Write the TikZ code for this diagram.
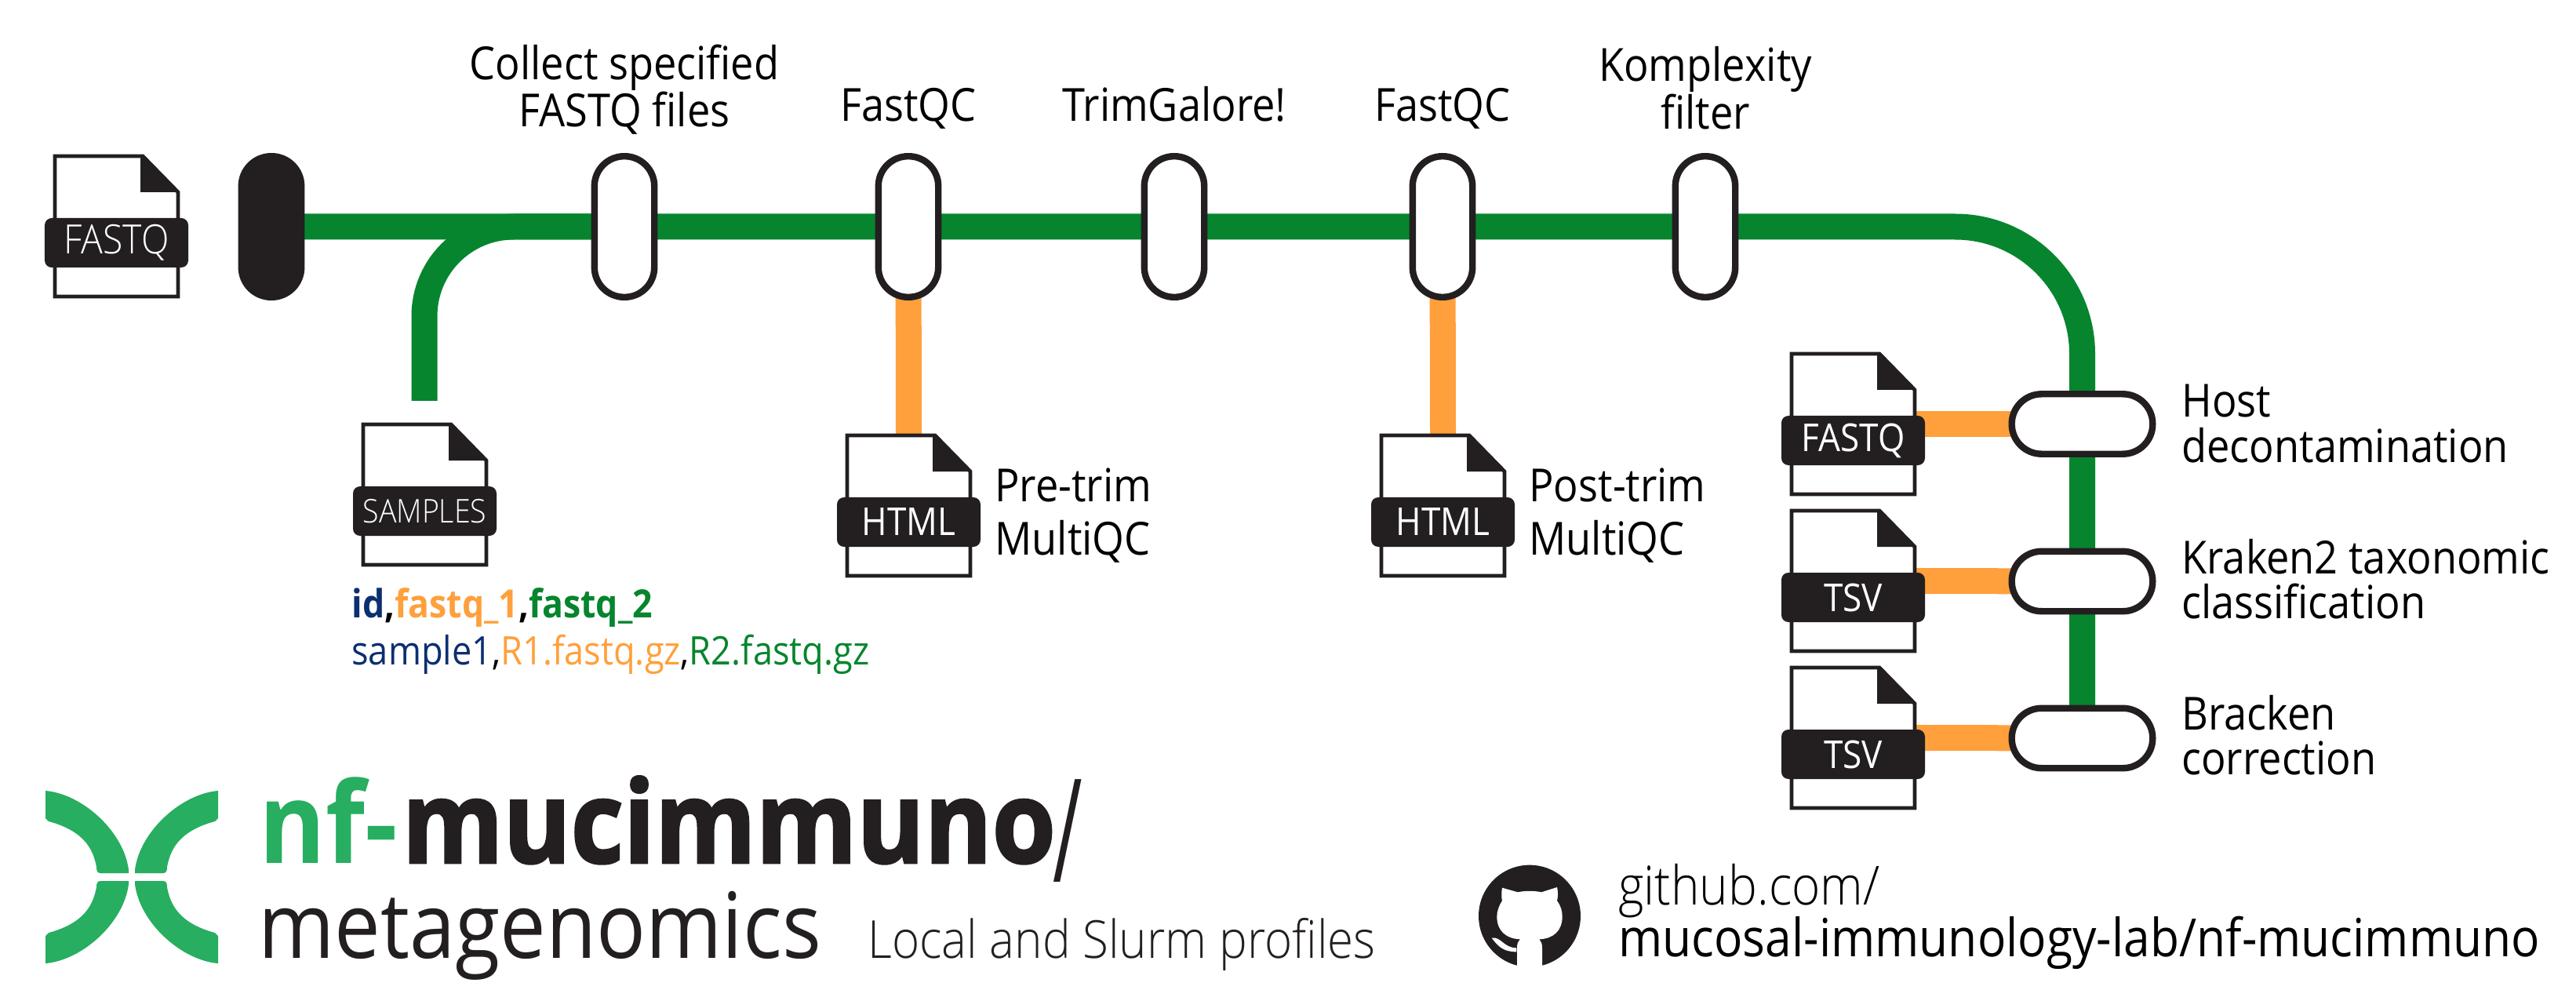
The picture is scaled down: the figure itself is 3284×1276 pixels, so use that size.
\documentclass[tikz,border=0pt]{standalone}
\usepackage{fontspec}
\usetikzlibrary{backgrounds}
\setmainfont{Open Sans}[FakeStretch=0.9,Ligatures=NoCommon]
\newfontfamily\lightf{Open Sans Light}[FakeStretch=0.9]
\newfontfamily\heavyf{Open Sans}[FakeStretch=0.9,BoldFeatures={FakeBold=1.8}]
\definecolor{ink}{HTML}{231F20}
\definecolor{metro}{HTML}{06852E}
\definecolor{amber}{HTML}{FFA03C}
\definecolor{logogreen}{HTML}{27AE60}
\definecolor{navy}{HTML}{0B2F70}
\tikzset{
  x=0.5bp,y=-0.5bp,
  stop/.style={draw=ink,line width=4.2bp,fill=white,rounded corners=19bp,inner sep=0pt,outer sep=0pt,minimum width=38.2bp,minimum height=89.8bp},
  startstop/.style={stop,fill=ink},
  hstop/.style={stop,minimum width=89.8bp,minimum height=38.2bp},
  mainline/.style={draw=metro,line width=16.5bp},
  sideline/.style={draw=amber,line width=16.5bp},
  docline/.style={draw=ink,line width=2.4bp,fill=white,miter limit=10},
  doclabel/.style={fill=ink,text=white,rounded corners=4.5bp,inner sep=0pt,outer sep=0pt,minimum width=91.5bp,minimum height=31.5bp,font=\fontsize{24.6}{25}\selectfont},
  steplabel/.style={text=black,inner sep=0pt,align=center,font=\fontsize{29.2}{28.7}\selectfont},
  sidelabel/.style={steplabel,align=left,anchor=west},
  baselabel/.style={steplabel,anchor=base},
  widelabel/.style={sidelabel,font=\fontsize{29.2}{34.5}\selectfont},
}
\newcommand\docicon[5][]{%
  \path[docline] (#3,#4) -- ++(112,0) -- ++(45,46) -- ++(0,133) -- ++(-157,0) -- cycle;
  \fill[ink] (#3+109,#4+2) -- (#3+112,#4) -- (#3+157,#4+46) -- (#3+109,#4+46) -- cycle;
  \coordinate (#2-top) at (#3+78.5,#4);
  \coordinate (#2-port) at (#3+157,#4+89.5);
  \node[doclabel,#1] (#2) at (#3+78.5,#4+110.5) {#5};
}
\begin{document}
\begin{tikzpicture}
\useasboundingbox (0,0) rectangle (3284,1276);

% stops
\node[startstop] (start) at (346,289) {};
\node[stop] (collect) at (796,289) {};
\node[stop] (fq1) at (1158,289) {};
\node[stop] (trim) at (1497,289) {};
\node[stop] (fq2) at (1839,289) {};
\node[stop] (komp) at (2174,289) {};
\node[hstop] (host) at (2654.5,540.5) {};
\node[hstop] (kraken) at (2654.5,741) {};
\node[hstop] (bracken) at (2654.5,941) {};
\coordinate (bend) at (2654.5,289);
\coordinate (branchend) at (541,511);
\coordinate (branchbend) at (541,289);

% documents
\docicon[font=\fontsize{25.8}{26}\selectfont\lightf]{infile}{70}{199}{FASTQ}
\docicon[font=\fontsize{20.9}{21}\selectfont\lightf]{samples}{463}{541}{SAMPLES}
\docicon{html1}{1080}{555}{HTML}
\docicon{html2}{1761}{555}{HTML}
\docicon{outfq}{2284}{451}{FASTQ}
\docicon{tsv1}{2284}{651}{TSV}
\docicon{tsv2}{2284}{851}{TSV}

% connectors
\begin{scope}[on background layer]
  \fill[white] (0,0) rectangle (3284,1276);
  \draw[mainline,rounded corners=81bp] (start.center) -- (komp.center) -- (bend) -- (bracken.center);
  \draw[mainline,rounded corners=57bp] (branchend) -- (branchbend) -- (collect.center);
  \draw[sideline] (fq1.center) -- (html1-top);
  \draw[sideline] (fq2.center) -- (html2-top);
  \draw[sideline] (outfq-port) -- (host.center);
  \draw[sideline] (tsv1-port) -- (kraken.center);
  \draw[sideline] (tsv2-port) -- (bracken.center);
\end{scope}

% labels
\node[steplabel] (lcollect) at (796,114) {Collect specified\\FASTQ files};
\node[baselabel] (lfq1) at (1158,155) {FastQC};
\node[baselabel] (ltrim) at (1497,155) {TrimGalore!};
\node[baselabel] (lfq2) at (1839,155) {FastQC};
\node[steplabel] (lkomp) at (2174,112) {Komplexity\\filter};
\node[sidelabel] (lhost) at (2781,540) {Host\\decontamination};
\node[sidelabel] (lkraken) at (2781,738) {Kraken2 taxonomic\\classification};
\node[sidelabel] (lbracken) at (2781,937) {Bracken\\correction};
\node[widelabel] (lpre) at (1268,657) {Pre-trim\\MultiQC};
\node[widelabel] (lpost) at (1949,657) {Post-trim\\MultiQC};

% samplesheet
\node[anchor=base west,inner sep=0pt,font=\fontsize{24.9}{25}\selectfont\bfseries] (csvhead) at (448,787)
  {\textcolor{navy}{id},\textcolor{amber}{fastq\_1},\textcolor{metro}{fastq\_2}};
\node[anchor=base west,inner sep=0pt,font=\fontsize{25.2}{26}\selectfont] (csvrow) at (448,847)
  {\textcolor{navy}{sample1},\textcolor{amber}{R1.fastq.gz},\textcolor{metro}{R2.fastq.gz}};

% logo
\newcommand\logoarm{(58,1008) .. controls (105,1012) and (158,1060) .. (164,1109) -- (164,1113) -- (128,1113) .. controls (124,1113) and (123,1110) .. (123,1105) .. controls (119,1085) and (110,1060) .. (62,1047) -- (58,1043) -- cycle}
\fill[logogreen] \logoarm;
\begin{scope}[cm={-1,0,0,1,(168bp,0)}]\fill[logogreen] \logoarm;\end{scope}
\begin{scope}[cm={1,0,0,-1,(0,-1118bp)}]\fill[logogreen] \logoarm;\end{scope}
\begin{scope}[cm={-1,0,0,-1,(168bp,-1118bp)}]\fill[logogreen] \logoarm;\end{scope}

% title
\node[anchor=base west,inner sep=0pt,font=\fontsize{72}{75}\selectfont] (title) at (330,1100)
  {\textcolor{logogreen}{\bfseries nf-}\hspace{3bp}\textcolor{ink}{\heavyf\bfseries\fontsize{73.1}{75}\selectfont mucimmuno}\textcolor{ink}{\hspace{-2bp}\raisebox{-12bp}{\scalebox{0.62}[1]{\fontsize{92}{92}\selectfont /}}}};
\node[anchor=base west,inner sep=0pt,text=ink,font=\fontsize{58.3}{60}\selectfont] (subtitle) at (329,1221) {metagenomics};
\node[anchor=base west,inner sep=0pt,text=ink,font=\fontsize{33.5}{34}\selectfont\lightf] (profiles) at (1106,1221) {Local and Slurm profiles};
\node[anchor=base west,inner sep=0pt,font=\fontsize{34.5}{35}\selectfont\lightf] (gh1) at (2063,1153) {github.com/};
\node[anchor=base west,inner sep=0pt,font=\fontsize{33.7}{34}\selectfont] (gh2) at (2063,1219) {mucosal-immunology-lab/nf-mucimmuno};

% github mark
\begin{scope}[shift={(1800,1050)},x=0.16667bp,y=-0.16667bp]
  \fill[ink] (450,353) circle [radius=195];
  \fill[white] (345,245) -- (405,262) .. controls (430,256) and (470,256) .. (495,262) -- (555,243)
    .. controls (560,265) and (558,280) .. (555,295) .. controls (570,315) and (575,335) .. (575,355)
    .. controls (575,410) and (540,440) .. (487,442) .. controls (495,450) and (498,460) .. (498,475)
    -- (498,552) -- (402,552) -- (402,475) .. controls (402,460) and (405,450) .. (415,442)
    .. controls (360,440) and (325,410) .. (325,355) .. controls (325,335) and (332,315) .. (345,295)
    .. controls (342,280) and (342,265) .. (345,245) -- cycle;
  \fill[white] (305,437) .. controls (340,430) and (350,475) .. (400,475) -- (400,490) .. controls (350,490) and (330,470) .. (305,437) -- cycle;
\end{scope}
\end{tikzpicture}
\end{document}
